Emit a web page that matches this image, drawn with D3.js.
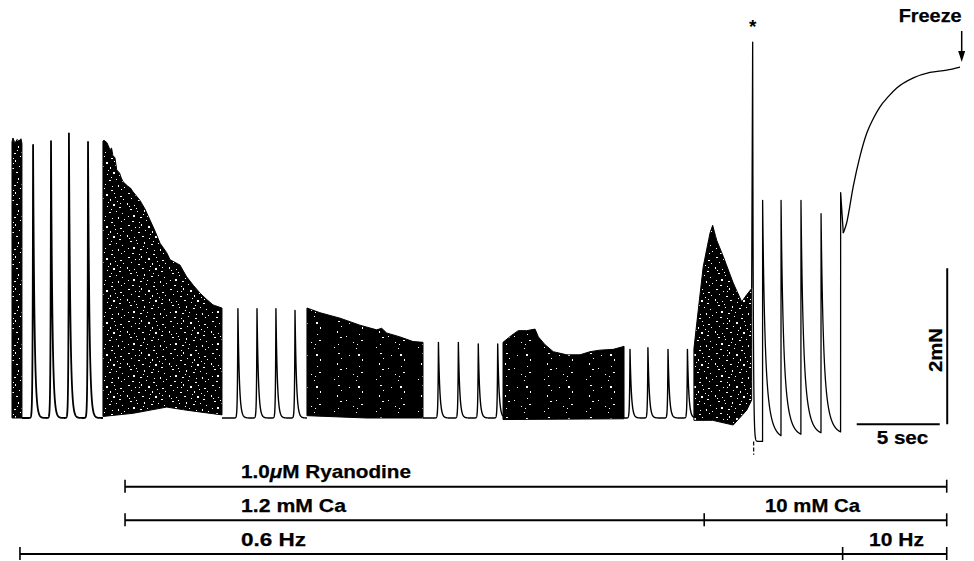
<!DOCTYPE html>
<html><head><meta charset="utf-8">
<script src="https://cdn.jsdelivr.net/npm/d3@7"></script>
<style>body{margin:0;background:#fff}svg{display:block}</style>
</head><body>
<svg id="chart" width="974" height="561"></svg>
<script>
// ---------- DATA (time in s of chart, force in mN) ----------
// dense (slow chart speed) blocks: upper and lower envelopes [t, F]
const denseAUpper = [[0.12,3.54],[0.18,3.59],[0.30,3.52],[0.42,3.57],[0.54,3.55],[0.66,3.58],[0.72,3.52]];
const denseALower = [[0.12,0.00],[0.72,0.00]];
const denseBUpper = [[5.60,3.55],[5.66,3.56],[5.84,3.53],[6.02,3.44],[6.12,3.46],[6.20,3.36],[6.32,3.34],[6.43,3.18],[6.60,3.14],[6.70,3.08],[6.81,3.03],[7.10,2.97],[7.25,2.95],[7.41,2.90],[7.83,2.79],[8.13,2.68],[8.43,2.54],[8.73,2.40],[9.04,2.24],[9.44,2.12],[9.64,2.03],[10.24,1.96],[10.64,1.81],[11.05,1.70],[11.45,1.60],[11.85,1.52],[12.23,1.45],[12.77,1.41]];
const denseBLower = [[5.60,0.02],[7.41,0.06],[9.44,0.14],[10.64,0.10],[12.77,0.04]];
const denseCUpper = [[17.89,1.41],[18.67,1.35],[19.88,1.28],[21.08,1.19],[22.09,1.13],[22.39,1.15],[22.69,1.09],[23.49,1.04],[24.28,0.98],[24.88,0.97]];
const denseCLower = [[17.89,0.03],[21.49,0.00],[24.88,0.00]];
const denseDUpper = [[29.70,0.97],[30.22,1.06],[30.62,1.12],[31.13,1.12],[31.63,1.14],[31.83,1.04],[32.23,0.94],[32.73,0.85],[33.54,0.81],[34.34,0.81],[34.94,0.85],[35.54,0.87],[36.34,0.88],[36.85,0.91],[36.99,0.92]];
const denseDLower = [[29.70,-0.02],[36.99,-0.01]];
const denseEUpper = [[41.20,0.89],[41.46,1.38],[41.76,1.94],[42.17,2.37],[42.33,2.47],[42.57,2.28],[42.97,2.07],[43.57,1.73],[44.08,1.49],[44.38,1.58],[44.68,1.66]];
const denseELower = [[41.20,-0.03],[42.33,-0.03],[43.57,-0.09],[44.38,0.10],[44.68,0.23]];

// single 0.6 Hz twitches at fast chart speed
const group1Span = [0.72, 5.60];
const group1Times = [1.39, 2.47, 3.55, 4.70];
const group1Peaks = [3.50, 3.55, 3.65, 3.54];
const group2Span = [12.77, 17.89];
const group2Times = [13.73, 14.88, 16.02, 17.17];
const group2Peaks = [1.40, 1.40, 1.40, 1.38];
const group3Span = [24.88, 29.70];
const group3Times = [25.81, 27.01, 28.21, 29.38];
const group3Peaks = [0.97, 0.97, 0.95, 0.95];
const group4Span = [36.99, 41.20];
const group4Times = [37.35, 38.43, 39.64, 40.81];
const group4Peaks = [0.88, 0.90, 0.88, 0.88];

// 10 mM Ca: extra-systolic spike (*) and twitches
const spikeStart = [44.68, 1.66];
const spikePeak = [44.74, 4.82];
const spikeTrough = -0.30;
const stimArtifact = [[44.80, -0.30], [44.80, -0.47]];
const fastTimes = [45.34, 46.45, 47.65, 48.86, 50.04];
const fastPeaks = [2.79, 2.79, 2.79, 2.62, 2.89];
const fastTroughs = [-0.27, -0.24, -0.22, -0.21];

// 10 Hz contracture
const tetanusT = [50.20, 50.40, 50.80, 51.20, 51.61, 52.01, 52.41, 52.91, 53.42, 54.42, 55.42, 56.43, 57.23];
const tetanusF = [2.37, 2.50, 2.97, 3.35, 3.65, 3.84, 3.99, 4.12, 4.23, 4.36, 4.43, 4.46, 4.50];

// protocol brackets
const ryanodineRange = [6.93, 56.43];
const caBreaks = [6.93, 41.82, 56.43];
const caLabels = ["1.2 mM Ca", "10 mM Ca"];
const hzBreaks = [0.60, 50.16, 56.43];
const hzLabels = ["0.6 Hz", "10 Hz"];
const scaleTime = 5;   // s
const scaleForce = 2;  // mN

// ---------- DRAWING ----------
const svg = d3.select("#chart");
const x = d3.scaleLinear().domain([0, 57.23]).range([10, 960]);
const y = d3.scaleLinear().domain([0, 2]).range([418, 262]);
const line = d3.line().x(d => x(d[0])).y(d => y(d[1]));

// speckle texture for dense blocks (styling only)
const defs = svg.append("defs");
const speckTile = [[2,1,2,1],[9,3,1,1],[15,0,1,2],[22,2,2,2],[30,1,1,1],[36,4,2,1],[5,6,1,1],[12,8,2,1],[19,6,1,1],[26,7,1,2],[33,9,1,1],[39,7,1,1],[1,11,1,2],[8,13,1,1],[16,12,2,1],[23,14,1,1],[29,12,2,2],[35,15,2,1],[4,17,2,1],[11,19,1,1],[18,18,1,2],[25,20,2,1],[32,19,1,1],[38,21,1,1],[2,24,1,1],[7,23,2,2],[14,25,2,1],[21,24,1,1],[28,26,1,1],[34,25,1,2],[40,27,1,1],[6,29,2,1],[13,30,1,1],[20,28,1,1],[27,30,2,1],[37,29,1,1],[10,16,1,1],[31,5,1,1],[24,10,1,1],[17,22,1,1],[3,14,1,1],[36,11,1,1],[13,3,1,1],[27,17,1,1]];
function makePattern(id, specks) {
  const p = defs.append("pattern").attr("id", id).attr("patternUnits", "userSpaceOnUse")
    .attr("width", 42).attr("height", 32);
  p.append("rect").attr("width", 42).attr("height", 32).attr("fill", "#000");
  specks.forEach(s => p.append("rect").attr("x", s[0]).attr("y", s[1]).attr("width", s[2]).attr("height", s[3]).attr("fill", "#fff"));
}
makePattern("speckHeavy", speckTile);
makePattern("speckLight", speckTile.filter((s, i) => i % 3 === 0));

const dense = [
  [denseAUpper, denseALower, "speckHeavy"],
  [denseBUpper, denseBLower, "speckHeavy"],
  [denseCUpper, denseCLower, "speckLight"],
  [denseDUpper, denseDLower, "speckLight"],
  [denseEUpper, denseELower, "speckHeavy"]
];
dense.forEach(([up, lo, pat]) => {
  const poly = up.concat(lo.slice().reverse());
  svg.append("path").attr("d", line(poly) + "Z")
    .attr("fill", `url(#${pat})`).attr("stroke", "#000").attr("stroke-width", 1);
});

// slow twitch template
const slowRise = 0.025, slowFall = 0.085;
function slowGroup(span, times, peaks) {
  const pts = [];
  for (let t = span[0]; t <= span[1] + 1e-9; t += 0.004) {
    let f = 0;
    times.forEach((tp, i) => {
      const v = t < tp ? peaks[i] * Math.exp((t - tp) / slowRise) : peaks[i] * Math.exp(-(t - tp) / slowFall);
      if (v > f) f = v;
    });
    pts.push([t, f]);
  }
  times.forEach((tp, i) => pts.push([tp, peaks[i]]));
  pts.sort((a, b) => a[0] - b[0]);
  return pts;
}
[[group1Span, group1Times, group1Peaks, 1.8],
 [group2Span, group2Times, group2Peaks, 1.4],
 [group3Span, group3Times, group3Peaks, 1.4],
 [group4Span, group4Times, group4Peaks, 1.4]].forEach(([s, t, p, w]) => {
  svg.append("path").attr("d", line(slowGroup(s, t, p)))
    .attr("fill", "none").attr("stroke", "#000").attr("stroke-width", w).attr("stroke-linejoin", "round");
});

// 10 mM Ca fast segment
const fast = [spikeStart, spikePeak];
let cur = spikePeak[1];
for (let t = spikePeak[0] + 0.004; t < fastTimes[0] - 0.004; t += 0.004) {
  const dt = t - spikePeak[0];
  cur = spikeTrough + (spikePeak[1] - spikeTrough) * Math.exp(-dt / 0.035);
  fast.push([t, cur]);
}
fastTimes.forEach((tp, i) => {
  fast.push([tp - 0.004, cur]);
  fast.push([tp, fastPeaks[i]]);
  if (i < fastTroughs.length) {
    const tr = fastTroughs[i];
    for (let t = tp + 0.004; t < fastTimes[i + 1] - 0.004; t += 0.004) {
      const dt = t - tp;
      cur = tr + (fastPeaks[i] - tr) * (0.55 * Math.exp(-dt / 0.11) + 0.45 * Math.exp(-dt / 0.32));
      fast.push([t, cur]);
    }
  }
});
fast.push([tetanusT[0], tetanusF[0]]);
svg.append("path").attr("d", line(fast)).attr("fill", "none").attr("stroke", "#000")
  .attr("stroke-width", 1.3).attr("stroke-linejoin", "round");
svg.append("path").attr("d", line(stimArtifact)).attr("fill", "none").attr("stroke", "#000")
  .attr("stroke-width", 1.2).attr("stroke-dasharray", "4,2");

// tetanus
const tet = tetanusT.map((t, i) => [t, tetanusF[i]]);
svg.append("path").attr("d", d3.line().x(d => x(d[0])).y(d => y(d[1])).curve(d3.curveMonotoneX)(tet))
  .attr("fill", "none").attr("stroke", "#000").attr("stroke-width", 1.3);

// annotations
const font = "'Liberation Sans', Arial, Helvetica, sans-serif";
function label(txt, px, py, len, size, anchor) {
  return svg.append("text").attr("x", px).attr("y", py).text(txt)
    .attr("font-family", font).attr("font-weight", "bold").attr("font-size", size)
    .attr("text-anchor", anchor || "start")
    .attr("stroke", "#000").attr("stroke-width", 0.25)
    .attr("textLength", len).attr("lengthAdjust", "spacingAndGlyphs");
}
// asterisk
svg.append("text").attr("x", x(spikePeak[0])).attr("y", 33).attr("text-anchor", "middle")
  .attr("font-family", font).attr("font-weight", "bold").attr("font-size", 19).text("*");
// Freeze + arrow
const endP = tet[tet.length - 1];
const ax = x(endP[0]) + 1.7, tipY = y(endP[1]) - 5;
label("Freeze", ax, 21.5, 63, 18.5, "end");
svg.append("line").attr("x1", ax).attr("x2", ax).attr("y1", 31).attr("y2", tipY - 8)
  .attr("stroke", "#000").attr("stroke-width", 1.5);
svg.append("path").attr("d", `M${ax - 3.5},${tipY - 11}L${ax + 3.5},${tipY - 11}L${ax},${tipY}Z`).attr("fill", "#000");

// scale bars
const sbY = y(-0.08), sbX = x(56.46);
svg.append("line").attr("x1", x(56.01 - scaleTime)).attr("x2", x(56.01)).attr("y1", sbY).attr("y2", sbY)
  .attr("stroke", "#000").attr("stroke-width", 2);
svg.append("line").attr("x1", sbX).attr("x2", sbX).attr("y1", sbY).attr("y2", y(-0.08 + scaleForce))
  .attr("stroke", "#000").attr("stroke-width", 2);
label("5 sec", 876.7, 443.5, 51.6, 18.5);
svg.append("text").attr("transform", `translate(${sbX - 5},350) rotate(-90)`).text("2mN")
  .attr("font-family", font).attr("font-weight", "bold").attr("font-size", 19)
  .attr("stroke", "#000").attr("stroke-width", 0.25)
  .attr("text-anchor", "middle").attr("textLength", 44).attr("lengthAdjust", "spacingAndGlyphs");

// protocol brackets
function bracket(breaks, ly) {
  svg.append("line").attr("x1", x(breaks[0])).attr("x2", x(breaks[breaks.length - 1]))
    .attr("y1", ly).attr("y2", ly).attr("stroke", "#000").attr("stroke-width", 2);
  breaks.forEach(b => svg.append("line").attr("x1", x(b)).attr("x2", x(b))
    .attr("y1", ly - 7).attr("y2", ly + 6).attr("stroke", "#000").attr("stroke-width", 1.6));
}
bracket(ryanodineRange, 486.7);
bracket(caBreaks, 520.3);
bracket(hzBreaks, 554);

const ry = svg.append("text").attr("x", 241).attr("y", 478)
  .attr("font-family", font).attr("font-weight", "bold").attr("font-size", 18.5)
  .attr("stroke", "#000").attr("stroke-width", 0.25)
  .attr("textLength", 170).attr("lengthAdjust", "spacingAndGlyphs");
ry.append("tspan").text("1.0");
ry.append("tspan").attr("font-style", "italic").text("μ");
ry.append("tspan").text("M Ryanodine");

label(caLabels[0], 241, 512, 105, 18.5);
label(caLabels[1], 765, 512, 95, 18.5);
label(hzLabels[0], 241, 546, 65, 18.5);
label(hzLabels[1], 869, 546, 55, 18.5);
</script>
</body></html>
